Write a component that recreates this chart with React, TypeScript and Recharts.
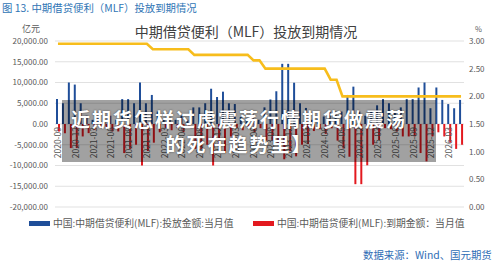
import React from 'react';
import { ComposedChart, Bar, Line, XAxis, YAxis, CartesianGrid } from 'recharts';

const months = [
  '2020-09', '2020-10', '2020-11', '2020-12',
  '2021-01', '2021-02', '2021-03', '2021-04', '2021-05', '2021-06', '2021-07', '2021-08', '2021-09', '2021-10', '2021-11', '2021-12',
  '2022-01', '2022-02', '2022-03', '2022-04', '2022-05', '2022-06', '2022-07', '2022-08', '2022-09', '2022-10', '2022-11', '2022-12',
  '2023-01', '2023-02', '2023-03', '2023-04', '2023-05', '2023-06', '2023-07', '2023-08', '2023-09', '2023-10', '2023-11', '2023-12',
  '2024-01', '2024-02', '2024-03', '2024-04', '2024-05', '2024-06', '2024-07', '2024-08', '2024-09', '2024-10', '2024-11', '2024-12',
  '2025-01', '2025-02', '2025-03', '2025-04', '2025-05', '2025-06', '2025-07', '2025-08', '2025-09', '2025-10', '2025-11', '2025-12',
  '2026-01', '2026-02', '2026-03', '2026-04', '2026-05',
];

const mlfIssue = [
  6000, 5000, 10000, 9500,
  5000, 2000, 1000, 1500, 1000, 2000, 1000, 6000, 6000, 5000, 10000, 5000,
  7000, 3000, 1000, 1500, 1000, 2000, 1000, 4000, 4000, 5000, 8500, 6500,
  7790, 4990, 4810, 1700, 1250, 2370, 1030, 4010, 5910, 7890, 14500, 14500,
  9950, 5000, 3870, 1000, 1250, 1820, 3000, 3000, 3000, 7000, 9000, 3000,
  2000, 3000, 4500, 6000, 5000, 3000, 4000, 6000, 6000, 8800, 10000, 3800,
  8800, 5800, 4800, 3800, 5800,
];

const mlfMature = [
  -1800, -2200, -5800, -5800,
  -3000, -2200, -1400, -1000, -1000, -1800, -1800, -7000, -6000, -5000, -10000, -6500,
  -4500, -2000, -1000, -1500, -1000, -2000, -1000, -6000, -6000, -5000, -10000, -5000,
  -7000, -3000, -1000, -1500, -1000, -2000, -1000, -4000, -4000, -5000, -8500, -6500,
  -7790, -4990, -4810, -1700, -1250, -2370, -1030, -4010, -5910, -7890, -14500, -14500,
  -9950, -5000, -3870, -1000, -1250, -1820, -3000, -3000, -3000, -7000, -9000, -3000,
  -2000, -3000, -4500, -6000, -5000,
];

const mlfRate = [
  2.95, 2.95, 2.95, 2.95,
  2.95, 2.95, 2.95, 2.95, 2.95, 2.95, 2.95, 2.95, 2.95, 2.95, 2.95, 2.95,
  2.85, 2.85, 2.85, 2.85, 2.85, 2.85, 2.85, 2.75, 2.75, 2.75, 2.75, 2.75,
  2.75, 2.75, 2.75, 2.75, 2.75, 2.65, 2.65, 2.5, 2.5, 2.5, 2.5, 2.5,
  2.5, 2.5, 2.5, 2.5, 2.5, 2.5, 2.3, 2.3, 2.0, 2.0, 2.0, 2.0,
  2.0, 2.0, 2.0, 2.0, 2.0, 2.0, 2.0, 2.0, 2.0, 2.0, 2.0, 2.0,
  2.0, 2.0, 2.0, 2.0, 2.0,
];

const leftTicks = [-20000, -15000, -10000, -5000, 0, 5000, 10000, 15000, 20000];
const rightTicks = [0, 0.5, 1, 1.5, 2, 2.5, 3];

const data = months.map((m, i) => ({
  month: m,
  issue: mlfIssue[i],
  mature: mlfMature[i],
  rate: mlfRate[i],
}));

const FONT = '"Noto Sans CJK SC", "Noto Sans", sans-serif';
const W = 500;
const H = 265;
const PLOT_TOP = 41;
const PLOT_BOTTOM = 207;
const ZERO_Y = (PLOT_TOP + PLOT_BOTTOM) / 2;

const BLUE = '#1f4e99';
const RED = '#e3191f';
const GOLD = '#f7bd1c';
const GRAY_TEXT = '#595959';

function CategoryTick(props: any) {
  const { x, payload } = props;
  const tx = x + 3;
  const ty = ZERO_Y + 3;
  return (
    <text
      x={tx}
      y={ty}
      transform={`rotate(-90 ${tx} ${ty})`}
      textAnchor="end"
      fontSize={8.5}
      fill={GRAY_TEXT}
      fontFamily={FONT}
    >
      {payload.value}
    </text>
  );
}

const fmtLeft = (v: number) =>
  v.toLocaleString('en-US', { minimumFractionDigits: 2, maximumFractionDigits: 2 });
const fmtRight = (v: number) => v.toFixed(2);

export default function App() {
  return (
    <div
      style={{
        position: 'absolute',
        left: 0,
        top: 0,
        width: W,
        height: H,
        background: '#ffffff',
        fontFamily: FONT,
        overflow: 'hidden',
      }}
    >
      <div style={{ position: 'absolute', left: 2, top: 0, fontSize: 10.4, lineHeight: '15px', color: '#2f75b5', whiteSpace: 'nowrap' }}>
        图 13. 中期借贷便利（MLF）投放到期情况
      </div>
      <div style={{ position: 'absolute', left: 0, width: 492, top: 22, lineHeight: '18px', textAlign: 'center', fontSize: 14, color: '#404040', whiteSpace: 'nowrap' }}>
        中期借贷便利（MLF）投放到期情况
      </div>
      <div style={{ position: 'absolute', left: 22, top: 23, fontSize: 9, lineHeight: '11px', color: GRAY_TEXT }}>亿元</div>
      <div style={{ position: 'absolute', left: 475, top: 24, fontSize: 7.5, lineHeight: '9px', color: GRAY_TEXT }}>%</div>

      <div style={{ position: 'absolute', left: 0, top: 0 }}>
        <ComposedChart
          width={W}
          height={H}
          data={data}
          margin={{ top: PLOT_TOP, right: 0, bottom: 0, left: 0 }}
          barGap={0}
          barCategoryGap={0}
        >
          <CartesianGrid yAxisId="left" vertical={false} stroke="#d9d9d9" strokeWidth={0.8} />
          <XAxis
            dataKey="month"
            interval={2}
            axisLine={false}
            tickLine={false}
            height={H - PLOT_BOTTOM}
            tick={<CategoryTick />}
          />
          <YAxis
            yAxisId="left"
            width={55}
            domain={[-20000, 20000]}
            ticks={leftTicks}
            tickFormatter={fmtLeft}
            axisLine={false}
            tickLine={false}
            tickSize={6}
            tickMargin={1}
            tick={{ fontSize: 8, fill: GRAY_TEXT, fontFamily: FONT }}
            interval={0}
          />
          <YAxis
            yAxisId="right"
            orientation="right"
            width={36}
            domain={[0, 3]}
            ticks={rightTicks}
            tickFormatter={fmtRight}
            axisLine={false}
            tickLine={false}
            tickSize={2}
            tickMargin={3}
            tick={{ fontSize: 8, fill: GRAY_TEXT, fontFamily: FONT }}
            interval={0}
          />
          <Bar yAxisId="left" dataKey="issue" fill={BLUE} barSize={2} isAnimationActive={false} />
          <Bar yAxisId="left" dataKey="mature" fill={RED} barSize={2} isAnimationActive={false} />
          <Line
            yAxisId="right"
            dataKey="rate"
            type="linear"
            stroke={GOLD}
            strokeWidth={2.6}
            dot={false}
            isAnimationActive={false}
          />
        </ComposedChart>
      </div>

      {/* legend */}
      <div style={{ position: 'absolute', left: 29, top: 221, width: 21, height: 5, background: BLUE }} />
      <div style={{ position: 'absolute', left: 53, top: 216, fontSize: 9.8, lineHeight: '14px', color: GRAY_TEXT, whiteSpace: 'nowrap' }}>
        中国:中期借贷便利(MLF):投放金额:当月值
      </div>
      <div style={{ position: 'absolute', left: 253, top: 221, width: 21, height: 5, background: RED }} />
      <div style={{ position: 'absolute', left: 277, top: 216, fontSize: 9.8, lineHeight: '14px', color: GRAY_TEXT, whiteSpace: 'nowrap' }}>
        中国:中期借贷便利(MLF):到期金额：当月值
      </div>

      <div style={{ position: 'absolute', left: 363, top: 248, fontSize: 10.4, lineHeight: '14px', color: '#2f6db5', whiteSpace: 'nowrap' }}>
        数据来源：Wind、国元期货
      </div>

      {/* overlay */}
      <div style={{ position: 'absolute', left: 62, top: 100, width: 374, height: 62, background: 'rgba(0,0,0,0.37)' }} />
      <div
        style={{
          position: 'absolute',
          left: 39,
          width: 400,
          top: 106,
          textAlign: 'center',
          color: '#ffffff',
          fontWeight: 700,
          fontSize: 19,
          lineHeight: '25px',
          letterSpacing: 2,
          textShadow: '0 0 2px rgba(0,0,0,0.6)',
        }}
      >
        <div>近期货怎样过虑震荡行情期货做震荡</div>
        <div>的死在趋势里】</div>
      </div>
    </div>
  );
}
